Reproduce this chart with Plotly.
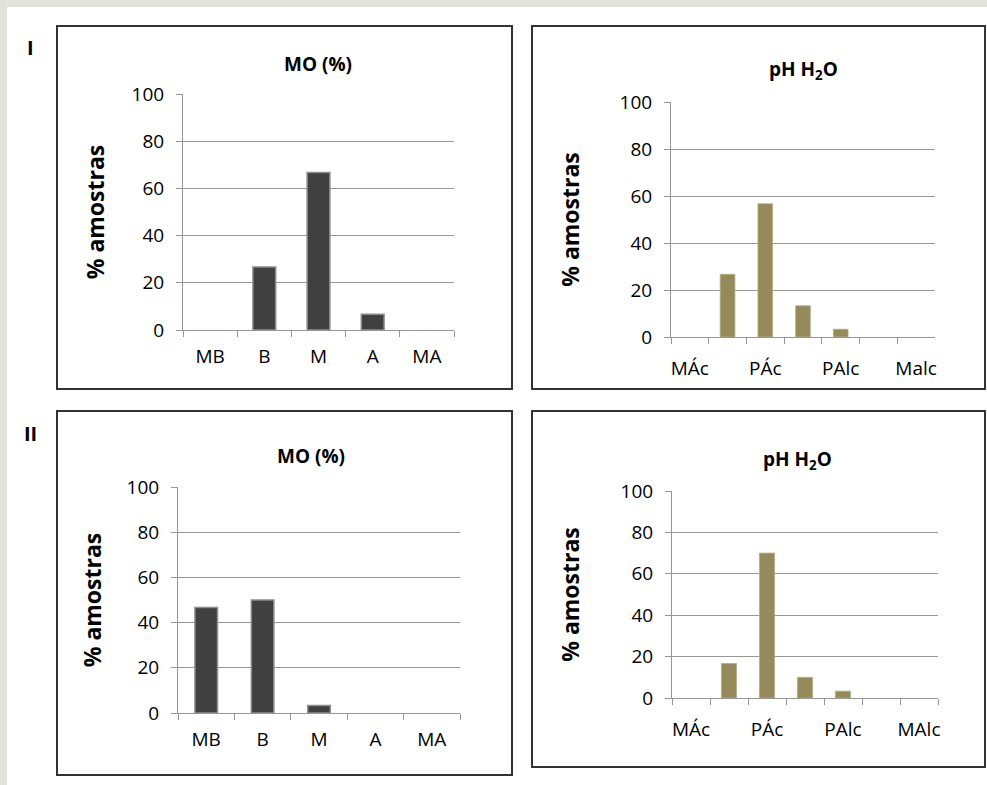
import plotly.graph_objects as go

W, H = 987, 785

# ---- data ----
mo_categories = ["MB", "B", "M", "A", "MA"]
mo_I = [0, 26.7, 66.7, 6.7, 0]
mo_II = [46.7, 50, 3.3, 0, 0]

ph_categories = ["MÁc", "Ác", "PÁc", "N", "PAlc", "Alc", "MAlc"]
ph_shown = ["MÁc", "PÁc", "PAlc", "MAlc"]
ph_text_I = ["MÁc", "PÁc", "PAlc", "Malc"]
ph_text_II = ["MÁc", "PÁc", "PAlc", "MAlc"]
ph_I = [0, 26.7, 56.7, 13.3, 3.3, 0, 0]
ph_II = [0, 16.7, 70, 10, 3.3, 0, 0]

y_ticks = [0, 20, 40, 60, 80, 100]

FONT = "Open Sans"
MO_COLOR = "#404040"
PH_COLOR = "#948a5a"
GRID = "#969696"
TICK_SIZE = 19


def px_x(v):
    return v / W


def px_y(v):
    return 1 - v / H


def line_widths(vals, w):
    return [w if v > 0 else 0 for v in vals]


fig = go.Figure()

fig.add_trace(go.Bar(x=mo_categories, y=mo_I, xaxis="x", yaxis="y", width=0.42,
                     marker=dict(color=MO_COLOR, line=dict(color="#8c8c8c", width=line_widths(mo_I, 1.5)))))
fig.add_trace(go.Bar(x=ph_categories, y=ph_I, xaxis="x2", yaxis="y2", width=0.39,
                     marker=dict(color=PH_COLOR, line=dict(color="#b5ae88", width=line_widths(ph_I, 0.8)))))
fig.add_trace(go.Bar(x=mo_categories, y=mo_II, xaxis="x3", yaxis="y3", width=0.40,
                     marker=dict(color=MO_COLOR, line=dict(color="#8c8c8c", width=line_widths(mo_II, 1.5)))))
fig.add_trace(go.Bar(x=ph_categories, y=ph_II, xaxis="x4", yaxis="y4", width=0.40,
                     marker=dict(color=PH_COLOR, line=dict(color="#b5ae88", width=line_widths(ph_II, 0.8)))))

# plot-area pixel boxes: (x_left, x_right, y_zero, y_hundred, y-title standoff)
boxes = {
    "1": (183, 454, 330, 94, 20),
    "2": (671, 935, 337, 102, 33),
    "3": (178, 460, 713, 487, 18),
    "4": (672, 938, 698, 491, 34),
}

layout = {}
for k, (xl, xr, y0, y100, stand) in boxes.items():
    sfx = "" if k == "1" else k
    is_ph = k in ("2", "4")
    cat = ph_categories if is_ph else mo_categories
    xa = dict(
        domain=[px_x(xl), px_x(xr)], anchor="y" + sfx, type="category",
        categoryorder="array", categoryarray=cat,
        showline=True, linecolor=GRID, linewidth=1, showgrid=False,
        tickfont=dict(family=FONT, size=TICK_SIZE, color="#000000"), tickangle=0,
        range=[-0.5, len(cat) - 0.5], fixedrange=True,
    )
    if is_ph:
        xa.update(tickvals=ph_shown, ticktext=ph_text_I if k == "2" else ph_text_II,
                  ticks="", ticklabelstandoff=14)
    else:
        xa.update(tickvals=cat, ticktext=cat, tickson="boundaries",
                  ticks="outside", ticklen=6, tickcolor=GRID, tickwidth=1,
                  ticklabelstandoff=9)
    layout["xaxis" + sfx] = xa
    layout["yaxis" + sfx] = dict(
        domain=[px_y(y0), px_y(y100)], anchor="x" + sfx, range=[0, 100],
        tickvals=y_ticks, ticks="outside", ticklen=6, tickcolor=GRID, tickwidth=1,
        showline=True, linecolor=GRID, linewidth=1, showgrid=True, gridcolor=GRID,
        gridwidth=1, zeroline=False, fixedrange=True,
        tickfont=dict(family=FONT, size=TICK_SIZE, color="#000000"),
        ticklabelstandoff=8,
        title=dict(text="<b>% amostras</b>", font=dict(family=FONT, size=23, color="#000000"),
                   standoff=stand),
    )

# tick-only overlay axes for the pH panels (tick marks at every category boundary)
for over, sfx, box in (("x2", "5", boxes["2"]), ("x4", "6", boxes["4"])):
    xl, xr = box[0], box[1]
    layout["xaxis" + sfx] = dict(
        domain=[px_x(xl), px_x(xr)], overlaying=over, anchor="y" + over[1:], type="category",
        categoryorder="array", categoryarray=ph_categories, tickvals=ph_categories,
        tickson="boundaries", ticks="outside", ticklen=6, tickcolor=GRID, tickwidth=1,
        showticklabels=False, showgrid=False, showline=False,
        range=[-0.5, len(ph_categories) - 0.5], fixedrange=True,
    )

# invisible traces binding overlay axes so they render
fig.add_trace(go.Bar(x=ph_categories, y=[0] * len(ph_categories), xaxis="x5", yaxis="y2",
                     marker=dict(color="rgba(0,0,0,0)", line=dict(width=0)), hoverinfo="skip"))
fig.add_trace(go.Bar(x=ph_categories, y=[0] * len(ph_categories), xaxis="x6", yaxis="y4",
                     marker=dict(color="rgba(0,0,0,0)", line=dict(width=0)), hoverinfo="skip"))

shapes = [
    dict(type="rect", xref="paper", yref="paper", x0=px_x(7), x1=1, y0=0, y1=px_y(7),
         fillcolor="white", line=dict(width=0), layer="below"),
]
panels = [(57, 512, 26, 389), (532, 985, 26, 389), (57, 512, 411, 775), (532, 985, 411, 767)]
for (x0, x1, y0, y1) in panels:
    shapes.append(dict(type="rect", xref="paper", yref="paper",
                       x0=px_x(x0), x1=px_x(x1), y0=px_y(y1), y1=px_y(y0),
                       line=dict(color="#333333", width=2), fillcolor="rgba(0,0,0,0)"))

TITLE_SIZE = 19


def label(text, x, y, size):
    return dict(text=text, x=px_x(x), y=px_y(y), xref="paper", yref="paper",
                xanchor="center", yanchor="middle", showarrow=False,
                font=dict(family=FONT, size=size, color="#000000"))


annotations = [
    label("<b>I</b>", 30, 48, 20),
    label("<b>II</b>", 30, 433, 20),
    label("<b>MO (%)</b>", 318, 64, TITLE_SIZE),
    label("<b>pH H<sub>2</sub>O</b>", 803, 70, TITLE_SIZE),
    label("<b>MO (%)</b>", 311, 456, TITLE_SIZE),
    label("<b>pH H<sub>2</sub>O</b>", 797, 460, TITLE_SIZE),
]

fig.update_layout(
    width=W, height=H, margin=dict(l=0, r=0, t=0, b=0, autoexpand=False),
    paper_bgcolor="#e3e3de", plot_bgcolor="rgba(0,0,0,0)",
    showlegend=False, shapes=shapes, annotations=annotations, barmode="overlay",
    font=dict(family=FONT, color="#000000"),
    **layout,
)

fig.write_html(
    "out.html",
    config={"displayModeBar": False, "staticPlot": True},
    post_script="document.body.style.margin='0';document.body.style.overflow='hidden';"
                "document.documentElement.style.overflow='hidden';"
                "document.body.style.background='#e3e3de';",
)
